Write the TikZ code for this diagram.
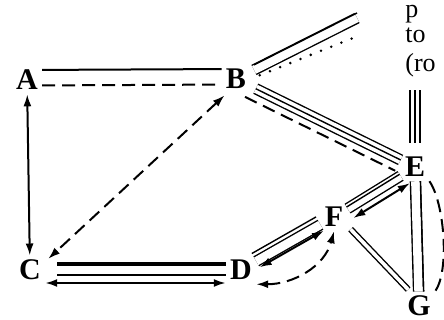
\documentclass[tikz,border=0pt]{standalone}
\usepackage{fontspec}
\setmainfont{Liberation Serif}
\usepackage{tikz}
\usetikzlibrary{arrows.meta}

\begin{document}
\begin{tikzpicture}[x=0.5pt,y=-0.5pt,
	lbl/.style={inner sep=2pt,font=\fontsize{15}{15}\selectfont\bfseries},
	txt/.style={inner sep=0pt,anchor=base west,font=\fontsize{13}{13}\selectfont},
	triple/.style={line width=0.7pt,preaction={preaction={draw=black,line width=5.7pt},draw=white,line width=4.3pt}},
	twin/.style={double,line width=0.7pt,double distance=1.8pt},
	dashline/.style={line width=1pt,dash pattern=on 6.5pt off 3.5pt},
	dotline/.style={line width=1.4pt,line cap=round,dash pattern=on 0pt off 5.5pt},
	tips/.style={{Latex[length=6pt,width=4pt]}-{Latex[length=6pt,width=4pt]}}]

	\useasboundingbox (0,0) rectangle (444,320);
	\clip (0,0) rectangle (444,320);

	% cities
	\node[lbl] (A) at (27,80) {A};
	\node[lbl] (B) at (236,79) {B};
	\node[lbl] (C) at (30,270) {C};
	\node[lbl] (D) at (241,270) {D};
	\node[lbl] (E) at (415,167) {E};
	\node[lbl] (F) at (334,217) {F};
	\node[lbl] (G) at (419,306) {G};

	% cut-off caption
	\node[txt] (capp) at (405,18) {p};
	\node[txt] (capto) at (405,43) {to};
	\node[txt] (capro) at (405,72) {(ro};

	\coordinate (Bfar) at (357,18);
	\coordinate (Bdot) at (353,38);
	\coordinate (Etop) at (415,90);

	\draw[line width=1pt,transform canvas={yshift=5pt}] (A) -- (B);
	\draw[dashline,transform canvas={yshift=-2.75pt}] (A) -- (B);
	\draw[tips,line width=1pt] (A) -- (C);
	\draw[tips,dashline,transform canvas={xshift=1.5pt,yshift=-1.5pt}] (B) -- (C);

	\draw[triple,shorten <=2pt,transform canvas={yshift=2.5pt}] (B) -- (Bfar);
	\draw[dotline,shorten <=5pt] (B.east) -- (Bdot);
	\draw[triple,shorten <=3pt] (B) -- (E);
	\draw[dashline,transform canvas={xshift=-2.7pt,yshift=-5.4pt}] (B) -- (E);
	\draw[triple,shorten <=5pt] (E) -- (Etop);

	\draw[triple,shorten <=6pt,transform canvas={yshift=3.5pt}] (C) -- (D);
	\draw[tips,line width=1pt,transform canvas={yshift=-6.5pt}] (C) -- (D);

	\draw[triple,transform canvas={xshift=-2.2pt,yshift=3.9pt}] (D) -- (F);
	\draw[tips,line width=1pt,transform canvas={xshift=1.7pt,yshift=-3pt}] (D) -- (F);
	\draw[tips,dashline] (D.south east) to[out=0,in=-105] (F.south);

	\draw[triple,transform canvas={xshift=-0.5pt,yshift=0.8pt}] (F) -- (E);
	\draw[tips,line width=1pt,shorten >=-2pt,transform canvas={xshift=2.9pt,yshift=-4.7pt}] (F) -- (E);
	\draw[twin,transform canvas={xshift=1.5pt,yshift=1pt}] (F) -- (G);

	\draw[triple,transform canvas={xshift=2.5pt}] (E) -- (G);
	\draw[dashline] (E.south east) to[out=-55,in=55,looseness=0.6] (G.north east);

\end{tikzpicture}
\end{document}
